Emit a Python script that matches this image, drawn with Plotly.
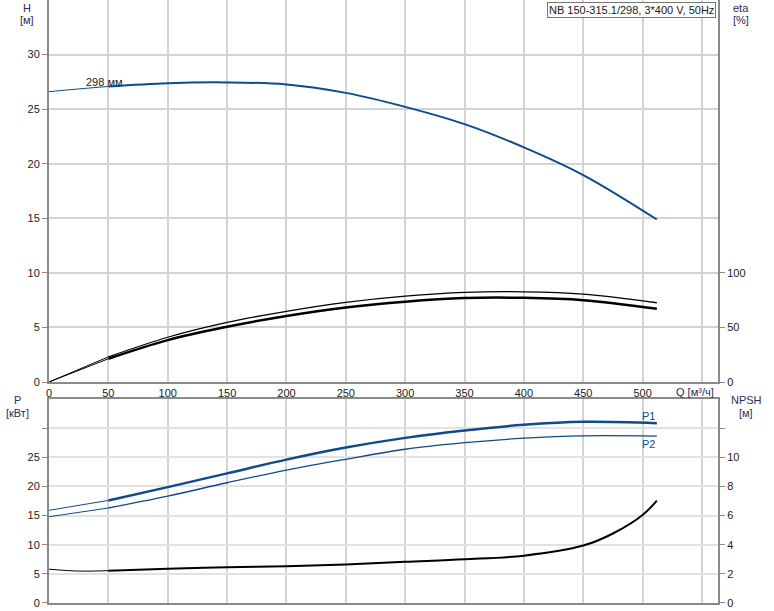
import plotly.graph_objects as go

# ---- data ----
q_h = [0, 25, 50, 100, 150, 200, 250, 300, 350, 400, 450, 512]
head = [26.6, 26.85, 27.08, 27.38, 27.45, 27.26, 26.49, 25.21, 23.63, 21.5, 18.96, 14.89]

q_eta = [0, 50, 100, 150, 200, 250, 300, 350, 400, 450, 512]
eta_pump = [0, 23, 41, 54.6, 64.8, 73, 78.7, 82.1, 82.6, 80.5, 72.6]
eta_total = [0, 21.3, 38.4, 50.6, 60.5, 68.3, 73.6, 76.9, 77.1, 75, 67.1]

q_p = [0, 50, 100, 150, 200, 250, 300, 350, 400, 450, 512]
p1 = [15.9, 17.6, 19.88, 22.24, 24.6, 26.67, 28.33, 29.6, 30.57, 31.09, 30.86]
p2 = [14.8, 16.3, 18.33, 20.63, 22.8, 24.66, 26.38, 27.5, 28.28, 28.68, 28.62]

q_npsh = [0, 25, 50, 100, 150, 200, 250, 300, 350, 400, 450, 475, 500, 512]
npsh = [2.32, 2.19, 2.22, 2.35, 2.46, 2.53, 2.65, 2.83, 3.0, 3.25, 3.94, 4.77, 6.04, 7.03]

x_ticks = [0, 50, 100, 150, 200, 250, 300, 350, 400, 450, 500, 550]
x_labels = ["0", "50", "100", "150", "200", "250", "300", "350", "400", "450", "500", ""]
h_ticks = [0, 5, 10, 15, 20, 25, 30]
eta_ticks = [0, 50, 100]
p_ticks = [0, 5, 10, 15, 20, 25, 30]
p_labels = ["0", "5", "10", "15", "20", "25", ""]
npsh_ticks = [0, 2, 4, 6, 8, 10, 12]
npsh_labels = ["0", "2", "4", "6", "8", "10", ""]

title_text = "NB 150-315.1/298, 3*400 V, 50Hz"
curve_label = "298 мм"

BLUE = "#0f4a8a"
BLACK = "#000000"
FONT = "Arial, Liberation Sans, sans-serif"


def split(q, v, qcut=50):
    a = [(x, y) for x, y in zip(q, v) if x <= qcut]
    b = [(x, y) for x, y in zip(q, v) if x >= qcut]
    return ([p[0] for p in a], [p[1] for p in a]), ([p[0] for p in b], [p[1] for p in b])


fig = go.Figure()


def add_curve(q, v, color, w_main, xa, ya):
    (qa, va), (qb, vb) = split(q, v)
    fig.add_trace(go.Scatter(x=qa, y=va, mode="lines", xaxis=xa, yaxis=ya,
                             line=dict(color=color, width=1, shape="spline", smoothing=1.0),
                             showlegend=False, hoverinfo="skip"))
    fig.add_trace(go.Scatter(x=qb, y=vb, mode="lines", xaxis=xa, yaxis=ya,
                             line=dict(color=color, width=w_main, shape="spline", smoothing=1.0),
                             showlegend=False, hoverinfo="skip"))


add_curve(q_h, head, BLUE, 2, "x", "y")
add_curve(q_eta, eta_pump, BLACK, 1.3, "x", "y2")
add_curve(q_eta, eta_total, BLACK, 2.5, "x", "y2")
add_curve(q_p, p1, BLUE, 2.5, "x2", "y3")
add_curve(q_p, p2, BLUE, 1.3, "x2", "y3")
add_curve(q_npsh, npsh, BLACK, 2, "x2", "y4")

axis_common = dict(linecolor="#8a8a8a", linewidth=2, showline=True,
                   tickfont=dict(family=FONT, size=11, color="#1a1a1a"),
                   zeroline=False)

top_dom = [0.3665, 1.0]
bot_dom = [0.0, 0.3383]

fig.update_layout(
    width=774, height=611,
    margin=dict(l=49, r=56, t=0, b=8, autoexpand=False),
    paper_bgcolor="white", plot_bgcolor="white",
    font=dict(family=FONT, size=11, color="#1a1a1a"),
    xaxis=dict(domain=[0, 1], anchor="y", range=[0, 563.5], tickvals=x_ticks, ticktext=x_labels,
               showgrid=True, gridcolor="#d4d4d4", gridwidth=1.5, ticks="", mirror=True,
               **axis_common),
    yaxis=dict(domain=top_dom, anchor="x", range=[0, 35], tickvals=h_ticks,
               showgrid=True, gridcolor="#d4d4d4", gridwidth=1.5, ticks="outside",
               ticklen=5, tickcolor="#8a8a8a", mirror=True, **axis_common),
    yaxis2=dict(overlaying="y", anchor="x", side="right", range=[0, 350], tickvals=eta_ticks,
                showgrid=False, ticks="outside", ticklen=5, tickcolor="#8a8a8a", **axis_common),
    xaxis2=dict(domain=[0, 1], anchor="y3", range=[0, 563.5], tickvals=x_ticks,
                showticklabels=False, showgrid=True, gridcolor="#d4d4d4", gridwidth=1.5,
                ticks="", mirror=True, **axis_common),
    yaxis3=dict(domain=bot_dom, anchor="x2", range=[0, 35], tickvals=p_ticks, ticktext=p_labels,
                showgrid=True, gridcolor="#e2e2e2", gridwidth=2, ticks="outside",
                ticklen=5, tickcolor="#8a8a8a", mirror=True, **axis_common),
    yaxis4=dict(overlaying="y3", anchor="x2", side="right", range=[0, 14], tickvals=npsh_ticks,
                ticktext=npsh_labels, showgrid=False, ticks="outside", ticklen=5,
                tickcolor="#8a8a8a", **axis_common),
)

ann_font = dict(family=FONT, size=11, color="#2b2b5a")
anns = [
    dict(text="H", x=-0.033, y=1.0, xref="paper", yref="paper", xanchor="center", yanchor="top",
         showarrow=False, font=ann_font),
    dict(text="[м]", x=-0.033, y=0.98, xref="paper", yref="paper", xanchor="center", yanchor="top",
         showarrow=False, font=ann_font),
    dict(text="eta", x=1.035, y=1.0, xref="paper", yref="paper", xanchor="center", yanchor="top",
         showarrow=False, font=ann_font),
    dict(text="[%]", x=1.035, y=0.98, xref="paper", yref="paper", xanchor="center", yanchor="top",
         showarrow=False, font=ann_font),
    dict(text="P", x=-0.047, y=0.337, xref="paper", yref="paper", xanchor="center", yanchor="middle",
         showarrow=False, font=ann_font),
    dict(text="[кВт]", x=-0.047, y=0.315, xref="paper", yref="paper", xanchor="center", yanchor="middle",
         showarrow=False, font=ann_font),
    dict(text="NPSH", x=1.042, y=0.337, xref="paper", yref="paper", xanchor="center", yanchor="middle",
         showarrow=False, font=ann_font),
    dict(text="[м]", x=1.042, y=0.315, xref="paper", yref="paper", xanchor="center", yanchor="middle",
         showarrow=False, font=ann_font),
    dict(text="Q [м³/ч]", x=544, y=0.35, xref="x", yref="paper", xanchor="center", yanchor="middle",
         showarrow=False, font=ann_font),
    dict(text=title_text, x=0.997, y=0.997, xref="paper", yref="paper", xanchor="right", yanchor="top",
         showarrow=False, bgcolor="white", bordercolor="#777777", borderwidth=1, borderpad=1,
         font=dict(family=FONT, size=11, color="#1a1a1a")),
    dict(text=curve_label, x=47, y=27.5, xref="x", yref="y", xanchor="center", yanchor="middle",
         showarrow=False, font=dict(family=FONT, size=11, color="#1a1a1a")),
    dict(text="P1", x=505, y=32.1, xref="x2", yref="y3", xanchor="center", yanchor="middle",
         showarrow=False, font=dict(family=FONT, size=11, color=BLUE)),
    dict(text="P2", x=505, y=27.3, xref="x2", yref="y3", xanchor="center", yanchor="middle",
         showarrow=False, font=dict(family=FONT, size=11, color=BLUE)),
]
fig.update_layout(annotations=anns)

fig.write_html("out.html", config={"displayModeBar": False},
               post_script="document.body.style.margin='0px';document.body.style.padding='0px';")
